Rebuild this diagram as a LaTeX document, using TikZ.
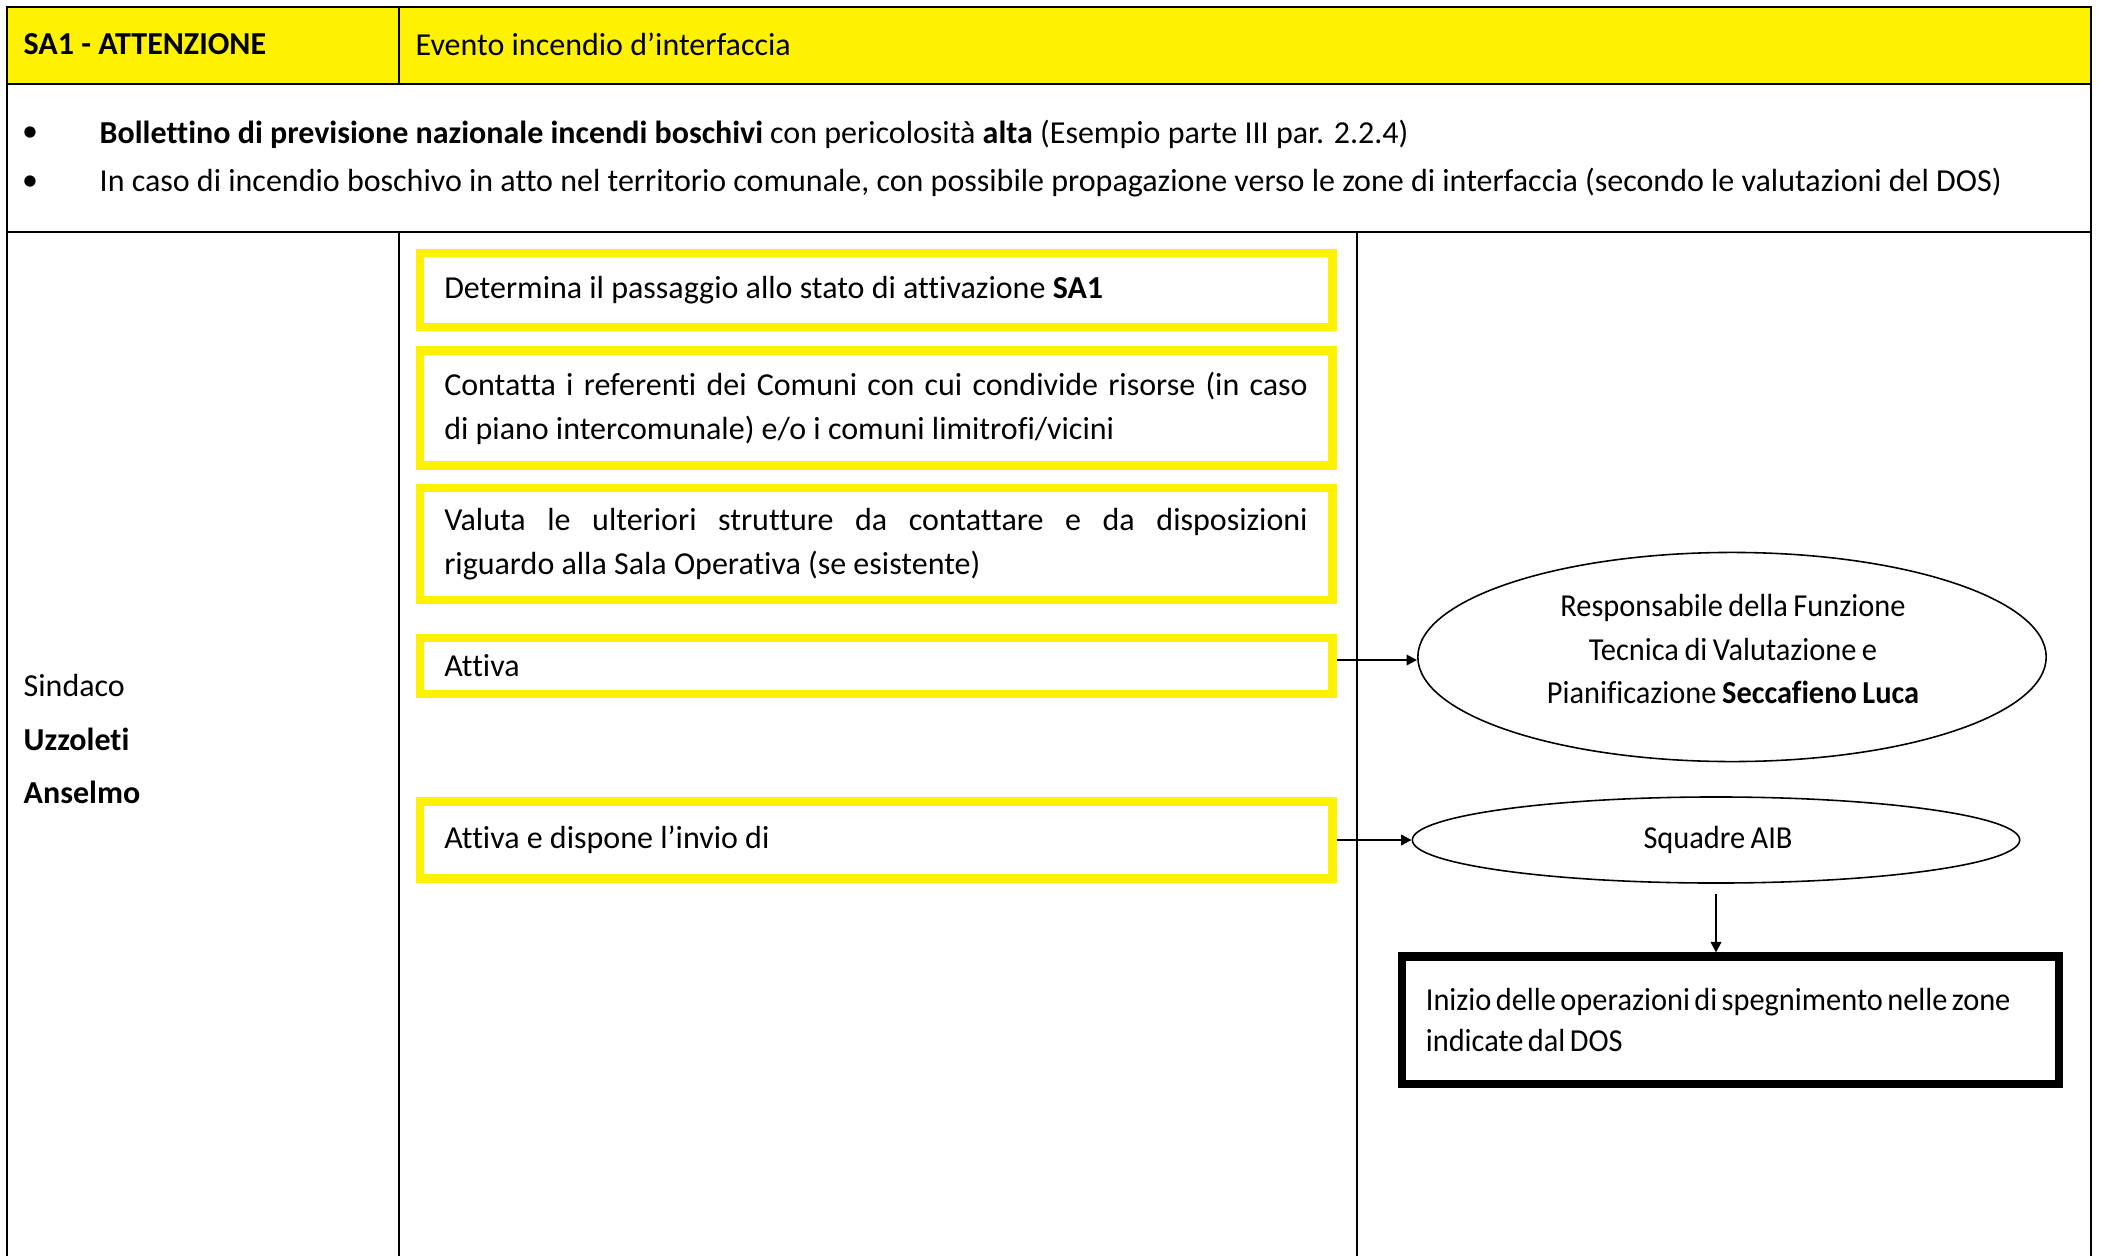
\documentclass[tikz,border=0pt]{standalone}
\usepackage{fontspec}
\setmainfont{Carlito}[Ligatures={TeX,NoCommon}]
\newfontfamily\tightfont{Carlito}[Ligatures={TeX,NoCommon},WordSpace={0.5,0,0},FakeStretch=0.95]
\newfontfamily\narrowfont{Carlito}[Ligatures={TeX,NoCommon},WordSpace={0.8,0,0},FakeStretch=0.95]
\usetikzlibrary{arrows.meta,shapes.geometric,positioning}
\tikzstyle{grid}=[line width=0.7pt]
\tikzstyle{task}=[draw=yellow,line width=2.4pt,
    minimum width=9.12cm,text width=8.63cm,align=justify]
\tikzstyle{role}=[draw,ellipse,line width=0.45pt]
\tikzstyle{rolename}=[align=center,font=\tightfont\fontsize{9.1}{12.3}\selectfont]
\tikzstyle{outcome}=[draw,line width=2.3pt,align=flush left,
    font=\narrowfont\fontsize{9.1}{11.4}\selectfont]
\tikzstyle{link}=[line width=0.6pt,-{Triangle[length=3pt,width=3pt]}]

\begin{document}
\begin{tikzpicture}[x=0.01cm,y=-0.01cm,
    every node/.style={inner sep=0pt,font=\fontsize{9.1}{12.5}\selectfont}]

    \useasboundingbox (0,0) rectangle (2101,1255);

    \fill[yellow] (7,7) rectangle (2091,84);
    \draw[grid] (7,1260) -- (7,7) -- (2091,7) -- (2091,1260);
    \draw[grid] (7,84) -- (2091,84);
    \draw[grid] (7,232) -- (2091,232);
    \draw[grid] (399,7) -- (399,84);
    \draw[grid] (399,232) -- (399,1260);
    \draw[grid] (1357,232) -- (1357,1260);

    \node[anchor=west] (level) at (23,44) {\textbf{SA1 - ATTENZIONE}};
    \node[anchor=west] (event) at (415,44) {Evento incendio d’interfaccia};

    \node (dot1) at (30,134) {\textbullet};
    \node[anchor=west] (cond1) at (99,134) {\textbf{Bollettino di previsione nazionale incendi boschivi} con pericolosità \textbf{alta} (Esempio parte III par. 2.2.4)};
    \node (dot2) at (30,183) {\textbullet};
    \node[anchor=west] (cond2) at (99,183) {In caso di incendio boschivo in atto nel territorio comunale, con possibile propagazione verso le zone di interfaccia (secondo le valutazioni del DOS)};

    \node[anchor=west,align=left,font=\fontsize{9.1}{15.1}\selectfont] (mayor) at (23,739)
        {Sindaco\\\textbf{Uzzoleti}\\\textbf{Anselmo}};

    \node[task,minimum height=0.735cm] (b1) at (876,290)
        {Determina il passaggio allo stato di attivazione \textbf{SA1}};
    \node[task,minimum height=1.145cm] (b2) at (876,408)
        {Contatta i referenti dei Comuni con cui condivide risorse (in caso\linebreak di piano intercomunale) e/o i comuni limitrofi/vicini};
    \node[task,minimum height=1.115cm] (b3) at (876,544)
        {Valuta le ulteriori strutture da contattare e da disposizioni\linebreak riguardo alla Sala Operativa (se esistente)};
    \node[task,minimum height=0.555cm] (b4) at (876,666) {Attiva};
    \node[task,minimum height=0.77cm] (b5) at (876,840) {Attiva e dispone l’invio di};

    \node[role,minimum width=6.28cm,minimum height=2.09cm] (tech) at (1732,657) {};
    \node[rolename] (techname) at (1733,649)
        {Responsabile della Funzione\\Tecnica di Valutazione e\\Pianificazione \textbf{Seccafieno Luca}};
    \node[role,minimum width=6.07cm,minimum height=0.86cm] (aib) at (1716,840) {};
    \node[rolename] (aibname) at (1718,840) {Squadre AIB};
    \node[outcome,minimum width=6.57cm,minimum height=1.27cm,text width=6.09cm] (dos) at (1730.5,1020)
        {Inizio delle operazioni di spegnimento nelle zone\\indicate dal DOS};

    \draw[link,transform canvas={yshift=1.7pt}] (b4.east) -- (b4.east -| tech.west);
    \draw[link] (b5.east) -- (aib.west);
    \draw[link,shorten <=3pt] (aib.south) -- (aib.south |- dos.north);
\end{tikzpicture}
\end{document}
